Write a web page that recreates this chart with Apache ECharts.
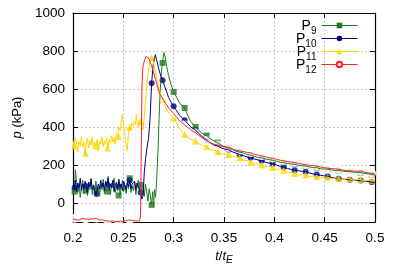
<!DOCTYPE html>
<html><head><meta charset="utf-8">
<script src="https://cdn.jsdelivr.net/npm/echarts@6/dist/echarts.min.js"></script>
<style>html,body{margin:0;padding:0;background:#fff}#c{width:399px;height:279px}</style>
</head><body><div id="c"></div>
<script>
// ---- data: [t/tE, p (kPa)] ----
const P9 = [[0.2000,90],[0.2012,60],[0.2024,175],[0.2036,110],[0.2048,55],[0.2060,95],[0.2072,30],[0.2084,85],[0.2096,120],[0.2108,50],[0.2120,100],[0.2132,65],[0.2144,40],[0.2156,110],[0.2168,70],[0.2180,130],[0.2192,45],[0.2204,90],[0.2216,60],[0.2228,115],[0.2240,55],[0.2252,80],[0.2264,35],[0.2276,100],[0.2288,70],[0.2300,125],[0.2312,50],[0.2324,95],[0.2336,60],[0.2348,140],[0.2360,75],[0.2372,45],[0.2384,105],[0.2396,80],[0.2408,130],[0.2420,55],[0.2432,90],[0.2444,65],[0.2456,110],[0.2468,40],[0.2480,85],[0.2492,120],[0.2504,60],[0.2516,95],[0.2528,50],[0.2540,105],[0.2552,75],[0.2564,130],[0.2576,55],[0.2588,90],[0.2600,65],[0.2612,110],[0.2624,45],[0.2636,85],[0.2648,120],[0.2660,60],[0.2672,95],[0.2684,40],[0.2696,80],[0.2708,35],[0.2720,100],[0.2732,60],[0.2744,10],[0.2756,75],[0.2768,40],[0.2780,-10],[0.2792,60],[0.2800,-20],[0.2810,70],[0.2820,30],[0.2830,110],[0.2838,200],[0.2845,283],[0.2855,440],[0.2865,580],[0.2878,690],[0.2890,737],[0.2903,792],[0.2915,770],[0.2930,720],[0.2950,670],[0.2970,630],[0.3000,585],[0.3030,555],[0.3060,525],[0.3085,512],[0.3109,500],[0.3140,460],[0.3170,430],[0.3195,412],[0.3218,400],[0.3250,382],[0.3280,368],[0.3305,360],[0.3328,355],[0.3360,340],[0.3400,326],[0.3437,318],[0.3480,302],[0.3520,295],[0.3546,290],[0.3590,280],[0.3620,272],[0.3656,268],[0.3700,262],[0.3730,255],[0.3765,252],[0.3800,245],[0.3840,240],[0.3874,238],[0.3910,232],[0.3950,228],[0.3983,225],[0.4020,220],[0.4060,214],[0.4093,212],[0.4130,208],[0.4170,205],[0.4202,204],[0.4240,198],[0.4280,196],[0.4311,195],[0.4350,190],[0.4390,186],[0.4421,186],[0.4460,180],[0.4500,179],[0.4530,178],[0.4570,174],[0.4610,171],[0.4639,172],[0.4680,168],[0.4720,165],[0.4749,166],[0.4790,162],[0.4830,160],[0.4858,160],[0.4900,156],[0.4940,152],[0.4967,150],[0.5000,147]];
const P10 = [[0.2000,95],[0.2012,70],[0.2024,120],[0.2036,60],[0.2048,105],[0.2060,80],[0.2072,130],[0.2084,65],[0.2096,100],[0.2108,75],[0.2120,115],[0.2132,90],[0.2144,55],[0.2156,110],[0.2168,85],[0.2180,125],[0.2192,70],[0.2204,95],[0.2216,60],[0.2228,40],[0.2240,50],[0.2252,100],[0.2264,75],[0.2276,120],[0.2288,85],[0.2300,105],[0.2312,65],[0.2324,115],[0.2336,90],[0.2348,130],[0.2360,70],[0.2372,100],[0.2384,80],[0.2396,120],[0.2408,60],[0.2420,95],[0.2432,110],[0.2444,75],[0.2456,125],[0.2468,85],[0.2480,100],[0.2492,65],[0.2504,115],[0.2516,90],[0.2528,70],[0.2540,110],[0.2552,85],[0.2564,120],[0.2576,75],[0.2588,100],[0.2600,90],[0.2612,115],[0.2624,70],[0.2636,105],[0.2648,85],[0.2660,95],[0.2672,55],[0.2684,20],[0.2696,40],[0.2708,160],[0.2720,230],[0.2735,290],[0.2750,340],[0.2765,440],[0.2781,630],[0.2795,720],[0.2808,760],[0.2818,780],[0.2830,755],[0.2845,720],[0.2860,690],[0.2875,665],[0.2890,646],[0.2910,615],[0.2930,585],[0.2950,555],[0.2975,530],[0.3000,509],[0.3030,485],[0.3060,460],[0.3085,448],[0.3109,436],[0.3140,418],[0.3170,400],[0.3195,392],[0.3218,384],[0.3250,365],[0.3280,352],[0.3305,340],[0.3328,332],[0.3360,318],[0.3395,306],[0.3437,300],[0.3480,288],[0.3520,283],[0.3546,280],[0.3580,270],[0.3620,262],[0.3656,255],[0.3700,248],[0.3730,242],[0.3765,238],[0.3800,232],[0.3840,226],[0.3874,222],[0.3910,215],[0.3950,210],[0.3983,206],[0.4020,200],[0.4060,192],[0.4093,188],[0.4130,182],[0.4170,176],[0.4202,172],[0.4240,170],[0.4280,166],[0.4311,165],[0.4350,158],[0.4390,152],[0.4421,150],[0.4460,146],[0.4500,142],[0.4530,140],[0.4570,134],[0.4610,131],[0.4639,128],[0.4680,126],[0.4720,124],[0.4749,122],[0.4790,121],[0.4830,119],[0.4858,118],[0.4900,115],[0.4940,112],[0.4967,110],[0.5000,108]];
const P11 = [[0.2000,330],[0.2012,290],[0.2024,345],[0.2036,310],[0.2048,270],[0.2060,325],[0.2072,300],[0.2084,350],[0.2096,295],[0.2108,320],[0.2120,260],[0.2132,315],[0.2144,340],[0.2156,290],[0.2168,330],[0.2180,305],[0.2192,345],[0.2204,285],[0.2216,320],[0.2228,300],[0.2240,335],[0.2252,275],[0.2264,325],[0.2276,310],[0.2288,350],[0.2300,295],[0.2312,330],[0.2324,305],[0.2336,340],[0.2348,290],[0.2360,335],[0.2372,315],[0.2384,355],[0.2396,320],[0.2408,345],[0.2420,310],[0.2432,370],[0.2444,350],[0.2456,400],[0.2468,380],[0.2480,430],[0.2490,466],[0.2500,420],[0.2510,380],[0.2520,340],[0.2530,300],[0.2540,274],[0.2550,360],[0.2560,400],[0.2572,380],[0.2584,420],[0.2596,405],[0.2608,430],[0.2620,415],[0.2630,466],[0.2640,420],[0.2650,395],[0.2660,430],[0.2672,430],[0.2684,400],[0.2696,385],[0.2708,450],[0.2720,530],[0.2735,630],[0.2750,700],[0.2765,750],[0.2781,765],[0.2795,750],[0.2810,715],[0.2830,660],[0.2850,610],[0.2870,575],[0.2890,548],[0.2915,510],[0.2945,480],[0.2970,462],[0.3000,449],[0.3030,420],[0.3060,390],[0.3085,372],[0.3109,361],[0.3140,345],[0.3170,335],[0.3195,330],[0.3218,326],[0.3250,312],[0.3280,305],[0.3305,300],[0.3328,298],[0.3360,280],[0.3400,278],[0.3437,270],[0.3480,258],[0.3520,260],[0.3546,255],[0.3580,244],[0.3620,242],[0.3656,238],[0.3700,224],[0.3730,224],[0.3765,215],[0.3800,206],[0.3840,206],[0.3874,200],[0.3910,192],[0.3950,192],[0.3983,188],[0.4020,177],[0.4060,178],[0.4093,172],[0.4130,162],[0.4170,160],[0.4202,155],[0.4240,146],[0.4280,150],[0.4311,148],[0.4350,138],[0.4390,142],[0.4421,140],[0.4460,132],[0.4500,138],[0.4530,135],[0.4570,127],[0.4610,132],[0.4639,130],[0.4680,123],[0.4720,129],[0.4749,127],[0.4790,119],[0.4830,125],[0.4858,122],[0.4900,116],[0.4940,121],[0.4967,120],[0.5000,115]];
const P12 = [[0.2000,-85],[0.2016,-80],[0.2030,-88],[0.2045,-84],[0.2060,-90],[0.2075,-86],[0.2090,-82],[0.2105,-88],[0.2125,-84],[0.2140,-90],[0.2160,-86],[0.2180,-82],[0.2200,-85],[0.2220,-80],[0.2235,-80],[0.2250,-86],[0.2270,-90],[0.2290,-88],[0.2310,-92],[0.2330,-94],[0.2344,-92],[0.2360,-95],[0.2380,-96],[0.2400,-94],[0.2420,-97],[0.2440,-98],[0.2453,-97],[0.2470,-95],[0.2490,-97],[0.2510,-94],[0.2530,-92],[0.2550,-90],[0.2563,-88],[0.2580,-90],[0.2600,-92],[0.2620,-94],[0.2640,-95],[0.2660,-93],[0.2668,-80],[0.2672,-26],[0.2678,300],[0.2685,620],[0.2695,720],[0.2710,750],[0.2725,772],[0.2740,770],[0.2755,760],[0.2768,740],[0.2781,720],[0.2800,690],[0.2820,650],[0.2840,610],[0.2860,575],[0.2875,562],[0.2890,553],[0.2920,525],[0.2950,500],[0.2975,485],[0.3000,471],[0.3030,450],[0.3060,432],[0.3085,420],[0.3109,412],[0.3140,397],[0.3170,385],[0.3195,376],[0.3218,370],[0.3250,355],[0.3280,345],[0.3305,337],[0.3328,330],[0.3360,318],[0.3400,310],[0.3437,305],[0.3480,298],[0.3520,294],[0.3546,292],[0.3580,285],[0.3620,278],[0.3656,274],[0.3700,270],[0.3730,266],[0.3765,264],[0.3800,256],[0.3840,252],[0.3874,248],[0.3910,243],[0.3950,238],[0.3983,236],[0.4020,230],[0.4060,225],[0.4093,222],[0.4130,218],[0.4170,215],[0.4202,213],[0.4240,208],[0.4280,204],[0.4311,201],[0.4350,199],[0.4390,196],[0.4421,195],[0.4460,189],[0.4500,186],[0.4530,183],[0.4570,181],[0.4610,179],[0.4639,178],[0.4680,173],[0.4720,171],[0.4749,169],[0.4790,168],[0.4830,168],[0.4858,168],[0.4900,162],[0.4940,158],[0.4967,157],[0.5000,152]];

// marker sample times and values
const markT = [0.2016,0.2125,0.2235,0.2344,0.2453,0.2563,0.2672,0.2781,0.2890,0.3000,0.3109,0.3218,0.3328,0.3437,0.3546,0.3656,0.3765,0.3874,0.3983,0.4093,0.4202,0.4311,0.4421,0.4530,0.4639,0.4749,0.4858,0.4967];
const mk9  = [60,65,70,60,40,130,95,-10,737,585,500,400,355,318,290,268,252,238,225,212,204,195,186,178,172,166,160,150];
const mk10 = [80,90,47,95,85,120,55,630,646,509,436,384,332,300,280,255,238,222,206,188,172,165,150,140,128,122,118,110];
const mk11 = [300,260,300,290,350,400,430,765,548,449,361,326,298,270,255,238,215,200,188,172,155,148,140,135,130,127,122,120];
const mk12 = [-80,-84,-80,-92,-97,-88,-26,720,553,471,412,370,330,305,292,274,264,248,236,222,213,201,195,183,178,169,168,157];

const names = ['P9','P10','P11','P12'];
const subs = {P9:'9',P10:'10',P11:'11',P12:'12'};
const colors = ['#1f7a1f','#00008b','#ffd700','#ff2020'];
const symbols = ['rect','circle','triangle','emptyCircle'];
const sizes = [6,6,7,7];
const lines = [P9,P10,P11,P12];
const marks = [mk9,mk10,mk11,mk12];

const FONT = '"Liberation Sans", Arial, sans-serif';
const series = [];
lines.forEach((d,i)=>{
  series.push({
    name: names[i], type:'line', data: d, xAxisIndex:0, yAxisIndex:0,
    showSymbol:false, symbol: symbols[i], symbolSize: sizes[i],
    lineStyle:{color: colors[i], width:1}, itemStyle:{color: colors[i]},
    animation:false, silent:true, clip:true
  });
  series.push({
    name: names[i]+'_m', type:'scatter', data: markT.map((t,k)=>[t, marks[i][k]]),
    xAxisIndex:0, yAxisIndex:0,
    symbol: symbols[i], symbolSize: sizes[i],
    itemStyle: symbols[i]==='emptyCircle' ? {color:'#fff', borderColor: colors[i], borderWidth:1} : {color: colors[i]},
    animation:false, silent:true
  });
});

const gridLine = {show:true, lineStyle:{color:'#c8c8c8', type:[2,2], width:1}};
const chart = echarts.init(document.getElementById('c'), null, {renderer:'canvas'});
chart.setOption({
  backgroundColor:'#fff',
  animation:false,
  grid:{left:73, right:24, top:13, bottom:57, containLabel:false},
  legend:{
    data: names, orient:'vertical', left:296, top:19, align:'right', padding:0,
    itemWidth:36, itemHeight:7, itemGap:-4,
    lineStyle:{width:1},
    formatter: n => '{p|P}{s|' + subs[n] + '}',
    textStyle:{
      fontFamily: FONT, color:'#000',
      rich:{
        p:{fontSize:14, fontFamily:FONT, color:'#000', lineHeight:13, verticalAlign:'top'},
        s:{fontSize:10, fontFamily:FONT, color:'#000', lineHeight:6, padding:[7,0,0,0], verticalAlign:'top'}
      }
    }
  },
  xAxis:[{
    type:'value', min:0.2, max:0.5, interval:0.05, position:'bottom',
    name:'{i|t}{n|/}{i|t}{s|E}', nameLocation:'middle', nameGap:24,
    nameTextStyle:{rich:{
      i:{fontSize:13, fontStyle:'italic', fontFamily:FONT, color:'#000'},
      n:{fontSize:13, fontFamily:FONT, color:'#000'},
      s:{fontSize:10, fontStyle:'italic', fontFamily:FONT, color:'#000', padding:[8,0,0,0]}
    }},
    axisLine:{show:true, onZero:false, lineStyle:{color:'#000', width:1.2}},
    axisTick:{show:true, inside:true, length:5, lineStyle:{color:'#000'}},
    axisLabel:{color:'#000', fontSize:13.5, fontFamily:FONT, margin:9, formatter: v => String(+v.toFixed(2))},
    splitLine: gridLine
  },{
    type:'value', min:0.2, max:0.5, interval:0.05, position:'top',
    axisLine:{show:true, onZero:false, lineStyle:{color:'#000', width:1.2}},
    axisTick:{show:true, inside:true, length:5, lineStyle:{color:'#000'}},
    axisLabel:{show:false}, splitLine:{show:false}
  }],
  yAxis:[{
    type:'value', min:-100, max:1000, splitNumber:5, minInterval:200, maxInterval:200, position:'left',
    name:'{i|p} (kPa)', nameLocation:'middle', nameGap:45, nameRotate:90,
    nameTextStyle:{fontSize:13, fontFamily:FONT, color:'#000', rich:{
      i:{fontSize:13, fontStyle:'italic', fontFamily:FONT, color:'#000'}
    }},
    axisLine:{show:true, onZero:false, lineStyle:{color:'#000', width:1.2}},
    axisTick:{show:true, inside:true, length:5, lineStyle:{color:'#000'}},
    axisLabel:{color:'#000', fontSize:13.5, fontFamily:FONT, margin:8, showMinLabel:false, formatter: v => String(v)},
    splitLine: gridLine
  },{
    type:'value', min:-100, max:1000, splitNumber:5, minInterval:200, maxInterval:200, position:'right',
    axisLine:{show:true, onZero:false, lineStyle:{color:'#000', width:1.2}},
    axisTick:{show:true, inside:true, length:5, lineStyle:{color:'#000'}},
    axisLabel:{show:false}, splitLine:{show:false}
  }],
  series: series
});
</script>
</body></html>
